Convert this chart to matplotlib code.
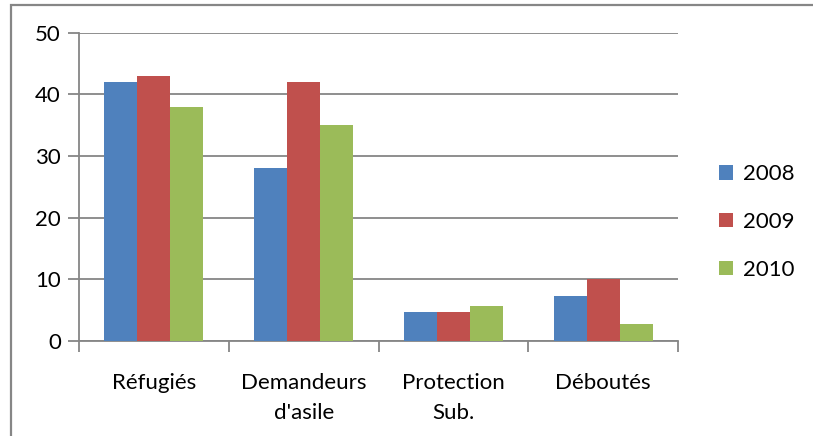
import matplotlib
matplotlib.use("Agg")
import matplotlib.pyplot as plt
from matplotlib.patches import Rectangle, Patch
import numpy as np

categories = ["Réfugiés", "Demandeurs\nd'asile", "Protection\nSub.", "Déboutés"]
years = ["2008", "2009", "2010"]
values_2008 = [42, 28, 4.7, 7.3]
values_2009 = [43, 42, 4.7, 10]
values_2010 = [38, 35, 5.6, 2.8]
y_ticks = [0, 10, 20, 30, 40, 50]

colors = ["#4F81BD", "#C0504D", "#9BBB59"]
axis_grey = "#868686"

plt.rcParams["font.family"] = ["Lato", "DejaVu Sans"]

W, H = 813, 436
fig = plt.figure(figsize=(W / 100, H / 100), dpi=100)

# chart frame (top and left edges visible)
fig.add_artist(Rectangle((11 / W, -0.1), 1.2, 1 - 5 / H + 0.1,
                         transform=fig.transFigure, fill=False,
                         edgecolor=axis_grey, linewidth=1.6))

left, right = 79 / W, 678 / W
bottom, top = 1 - 341 / H, 1 - 32.6 / H
ax = fig.add_axes([left, bottom, right - left, top - bottom])

x = np.arange(len(categories))
bw = 0.22
series = [values_2008, values_2009, values_2010]
for i, (vals, c) in enumerate(zip(series, colors)):
    ax.bar(x + (i - 1) * bw, vals, width=bw, color=c, zorder=3)

ax.set_xlim(-0.5, len(categories) - 0.5)
ax.set_ylim(0, 50)
ax.set_yticks(y_ticks)
ax.set_yticklabels([str(t) for t in y_ticks], fontsize=16)
ax.yaxis.grid(True, color=axis_grey, linewidth=1.3, zorder=0)
ax.set_axisbelow(True)

# category boundaries as major ticks, labels on minor ticks
ax.set_xticks(np.arange(-0.5, len(categories), 1.0))
ax.set_xticklabels([])
ax.set_xticks(x, minor=True)
ax.set_xticklabels(categories, minor=True, fontsize=16, linespacing=1.65)
ax.tick_params(axis="x", which="major", direction="out", length=8,
               width=1.3, color=axis_grey)
ax.tick_params(axis="x", which="minor", length=0, pad=23)
ax.tick_params(axis="y", direction="out", length=8, width=1.3,
               color=axis_grey, pad=5)

for s in ["top", "right"]:
    ax.spines[s].set_visible(False)
for s in ["left", "bottom"]:
    ax.spines[s].set_color(axis_grey)
    ax.spines[s].set_linewidth(1.3)

handles = [Patch(facecolor=c, edgecolor="none") for c in colors]
fig.legend(handles, years, loc="center left",
           bbox_to_anchor=(719 / W, 1 - 222 / H), frameon=False,
           fontsize=16, handlelength=0.62, handleheight=0.62,
           handletextpad=0.45, labelspacing=1.25, borderaxespad=0,
           borderpad=0)

fig.savefig("out.png", dpi=100)
